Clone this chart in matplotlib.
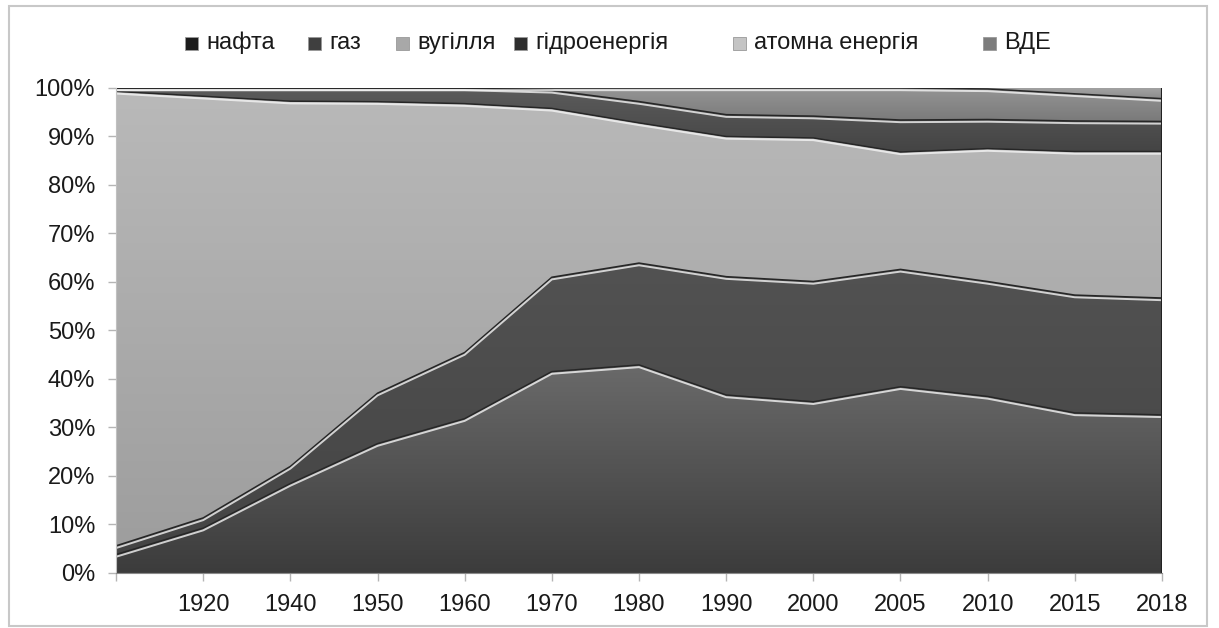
import numpy as np
import matplotlib.pyplot as plt
from matplotlib import transforms
from matplotlib.colors import LinearSegmentedColormap
from matplotlib.patches import PathPatch, Rectangle

plt.rcParams['font.family'] = ['Liberation Sans', 'DejaVu Sans']

# world primary energy mix, % of total
years = ['1900', '1920', '1940', '1950', '1960', '1970', '1980',
         '1990', '2000', '2005', '2010', '2015', '2018']
tick_labels = ['', '1920', '1940', '1950', '1960', '1970', '1980',
               '1990', '2000', '2005', '2010', '2015', '2018']
oil = [3.8, 9.2, 18.3, 26.4, 31.5, 41.4, 42.9, 36.7, 35.3, 38.4, 36.4, 33.0, 32.6]
gas = [1.8, 2.1, 3.5, 10.3, 13.5, 19.4, 21.0, 24.4, 24.8, 24.2, 23.7, 24.3, 24.1]
coal = [93.7, 86.5, 74.7, 59.5, 50.8, 34.7, 28.9, 28.9, 29.6, 24.2, 27.4, 29.6, 30.2]
hydro = [0.7, 1.7, 2.7, 2.8, 3.2, 3.7, 4.4, 4.5, 4.5, 6.6, 6.0, 6.3, 6.2]
nuclear = [0.0, 0.0, 0.0, 0.0, 0.0, 0.5, 2.8, 5.5, 5.8, 6.6, 6.3, 5.6, 4.7]
renewables = [0.0, 0.0, 0.0, 0.0, 0.0, 0.0, 0.0, 0.0, 0.0, 0.0, 0.2, 1.2, 2.2]

names = ['нафта', 'газ', 'вугілля', 'гідроенергія', 'атомна енергія', 'ВДЕ']
legend_colors = ['#1c1c1c', '#3f3f3f', '#a8a8a8', '#2e2e2e', '#c4c4c4', '#7c7c7c']
# (top, bottom) colours of the shaded fills
fills = [('#6a6a6a', '#3c3c3c'), ('#525252', '#444444'), ('#b9b9b9', '#9e9e9e'),
         ('#5c5c5c', '#444444'), ('#959595', '#7a7a7a'), ('#a2a2a2', '#8c8c8c')]

fig = plt.figure(figsize=(12.19, 6.28), dpi=100)
ax = fig.add_axes([0.0952, 0.0876, 0.8580, 0.7723])

x = np.arange(len(years))
shares = np.array([oil, gas, coal, hydro, nuclear, renewables], dtype=float)
shares = shares / shares.sum(axis=0) * 100
tops = np.cumsum(shares, axis=0)
bottoms = tops - shares

grad = np.linspace(0, 1, 256).reshape(-1, 1)
for i in range(len(names)):
    if shares[i].max() == 0:
        continue
    poly = ax.fill_between(x, bottoms[i], tops[i], facecolor='none',
                           edgecolor='none')
    clip = PathPatch(poly.get_paths()[0], transform=ax.transData,
                     facecolor='none', edgecolor='none')
    ax.add_patch(clip)
    cmap = LinearSegmentedColormap.from_list('f%d' % i, [fills[i][1], fills[i][0]])
    im = ax.imshow(grad, extent=[x[0], x[-1], bottoms[i].min(), tops[i].max()],
                   origin='lower', cmap=cmap, aspect='auto',
                   interpolation='bilinear', zorder=1)
    im.set_clip_path(clip)

# bevel: dark edge on each boundary with a light rim just below it
below = transforms.offset_copy(ax.transData, fig=fig, x=0, y=-2.2, units='dots')
for i in range(len(names) - 1):
    ax.plot(x, tops[i], color='#262626', lw=1.1, solid_joinstyle='round', zorder=2)
    ax.plot(x, tops[i], color='#f4f4f4', lw=1.4, alpha=0.8, transform=below,
            solid_joinstyle='round', zorder=2)
ax.plot([x[-1], x[-1]], [0, 100], color='#222222', lw=1.5, zorder=3)

ax.set_xlim(x[0], x[-1])
ax.set_ylim(0, 100)
ax.set_xticks(x)
ax.set_xticklabels(tick_labels)
ax.set_yticks(np.arange(0, 101, 10))
ax.set_yticklabels(['%d%%' % v for v in range(0, 101, 10)])
ax.tick_params(axis='both', labelsize=17, colors='#1a1a1a', length=6,
               width=1, direction='out')
ax.tick_params(axis='both', color='#b5b5b5')
ax.tick_params(axis='x', pad=9)
ax.tick_params(axis='y', pad=9)
for side in ['top', 'right']:
    ax.spines[side].set_visible(False)
ax.spines['left'].set_color('#c0c0c0')
ax.spines['bottom'].set_color('#8a8a8a')

# legend row along the top
W, H = fig.get_size_inches() * fig.dpi
legend_x = [185, 308, 396, 514, 733, 983]
for name, col, px in zip(names, legend_colors, legend_x):
    fig.patches.append(Rectangle((px / W, 1 - 50 / H), 13 / W, 13 / H,
                                 transform=fig.transFigure, facecolor=col,
                                 edgecolor='#999999', lw=0.6))
    fig.text((px + 21) / W, 1 - 43 / H, name, fontsize=17, color='#1a1a1a',
             va='center', ha='left')

# outer frame
fig.patches.append(Rectangle((9 / W, 2 / H), 1198 / W, 620 / H,
                             transform=fig.transFigure, facecolor='none',
                             edgecolor='#c8c8c8', lw=1.5))

fig.savefig('out.png', dpi=100, facecolor='white')
